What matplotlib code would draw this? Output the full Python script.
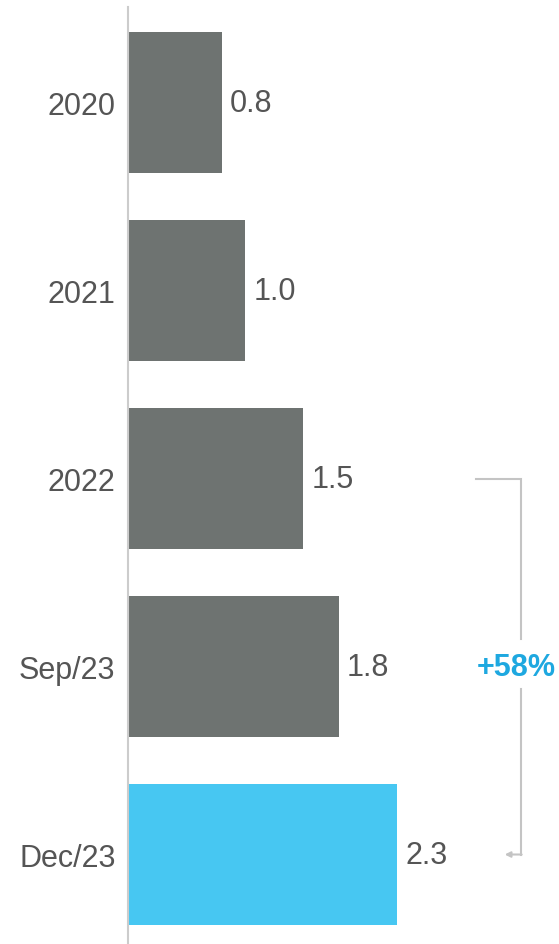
import matplotlib
matplotlib.use("Agg")
import matplotlib.pyplot as plt

categories = ["2020", "2021", "2022", "Sep/23", "Dec/23"]
values = [0.8, 1.0, 1.5, 1.8, 2.3]
bar_colors = ["#6E7371", "#6E7371", "#6E7371", "#6E7371", "#47C7F2"]
growth_label = "+58%"
growth_from, growth_to = 2, 4  # category indices spanned by the bracket

plt.rcParams["font.family"] = ["Liberation Sans", "DejaVu Sans"]

fig = plt.figure(figsize=(5.59, 9.45), dpi=100)
ax = fig.add_axes([128 / 559, 0.0, 1 - 128 / 559, 1 - 8 / 945])

pos = list(range(len(categories)))
ax.barh(pos, values, height=0.75, color=bar_colors)

for p, v in zip(pos, values):
    ax.text(v + 0.07, p, f"{v:.1f}", va="center", ha="left",
            fontsize=22, color="#555555")

ax.set_yticks(pos)
ax.set_yticklabels(categories, fontsize=22, color="#555555")
ax.tick_params(axis="y", length=0, pad=9)
ax.set_xticks([])

ax.set_xlim(0, 3.684)
ax.set_ylim(4.476, -0.508)

for s in ["top", "right", "bottom"]:
    ax.spines[s].set_visible(False)
ax.spines["left"].set_color("#CCCCCC")
ax.spines["left"].set_linewidth(1.5)

# growth bracket from 2022 to Dec/23
line_c = "#C4C4C4"
bx = 3.359
ax.plot([2.974, bx, bx], [growth_from, growth_from, growth_from + 0.854],
        color=line_c, lw=1.5, solid_joinstyle="miter")
ax.plot([bx, bx], [growth_from + 1.12, growth_to], color=line_c, lw=1.5)
ax.annotate("", xy=(3.22, growth_to), xytext=(bx + 0.006, growth_to),
            arrowprops=dict(arrowstyle="-|>", color=line_c, lw=1.5,
                            mutation_scale=8, shrinkA=0, shrinkB=0))
ax.text(3.316, 3.0, growth_label, ha="center", va="center", fontsize=22,
        fontweight="bold", color="#1EA8E0")

fig.savefig("out.png", dpi=100)
